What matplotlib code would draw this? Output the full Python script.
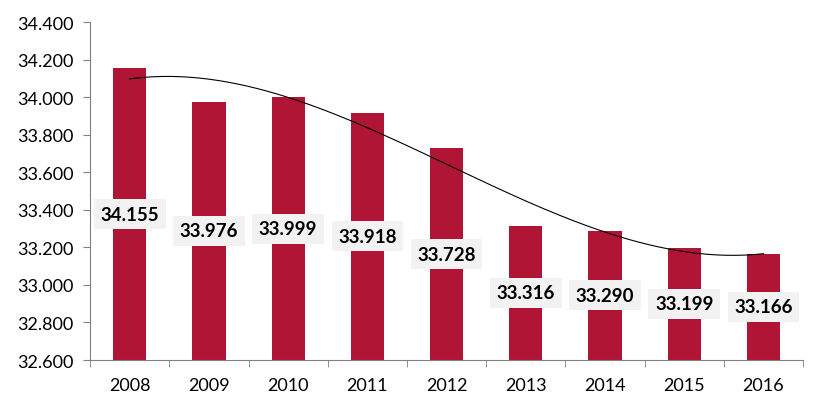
import numpy as np
import matplotlib
matplotlib.use("Agg")
import matplotlib.pyplot as plt
from matplotlib.ticker import FuncFormatter, FixedLocator

# data
years = ["2008", "2009", "2010", "2011", "2012", "2013", "2014", "2015", "2016"]
values = [34155, 33976, 33999, 33918, 33728, 33316, 33290, 33199, 33166]

plt.rcParams['font.family'] = ['Lato', 'DejaVu Sans']

fig = plt.figure(figsize=(8.27, 4.14), dpi=100)
ax = fig.add_axes([0.109, 0.128, 0.862, 0.816])

x = np.arange(len(years))
ax.bar(x, values, width=0.42, color="#B01535", zorder=2)

# polynomial trend line (like Excel's)
coef = np.polyfit(x, values, 3)
xs = np.linspace(0, len(years) - 1, 200)
ax.plot(xs, np.polyval(coef, xs), color="black", linewidth=0.8, zorder=3)

# data labels centred in the bars
for xi, v in zip(x, values):
    mid = (32600 + v) / 2
    ax.text(xi, mid, f"{v:,}".replace(",", "."), ha="center", va="center",
            fontsize=13.5, fontweight="bold", color="black", zorder=4,
            bbox=dict(boxstyle="square,pad=0.35", fc="#F2F2F2", ec="none"))

ax.set_ylim(32600, 34400)
ax.set_xlim(-0.5, len(years) - 0.5)
ax.set_yticks(np.arange(32600, 34401, 200))
ax.yaxis.set_major_formatter(FuncFormatter(lambda v, p: f"{int(v):,}".replace(",", ".")))
ax.set_xticks(x)
ax.set_xticklabels(years)
ax.xaxis.set_minor_locator(FixedLocator(np.arange(-0.5, len(years), 1)))
ax.tick_params(axis="x", which="major", length=0, labelsize=13, pad=12)
ax.tick_params(axis="x", which="minor", length=5, color="#808080")
ax.tick_params(axis="y", length=5, color="#808080", labelsize=13, pad=7)

for s in ["top", "right"]:
    ax.spines[s].set_visible(False)
for s in ["left", "bottom"]:
    ax.spines[s].set_color("#808080")

fig.savefig("out.png", dpi=100)
